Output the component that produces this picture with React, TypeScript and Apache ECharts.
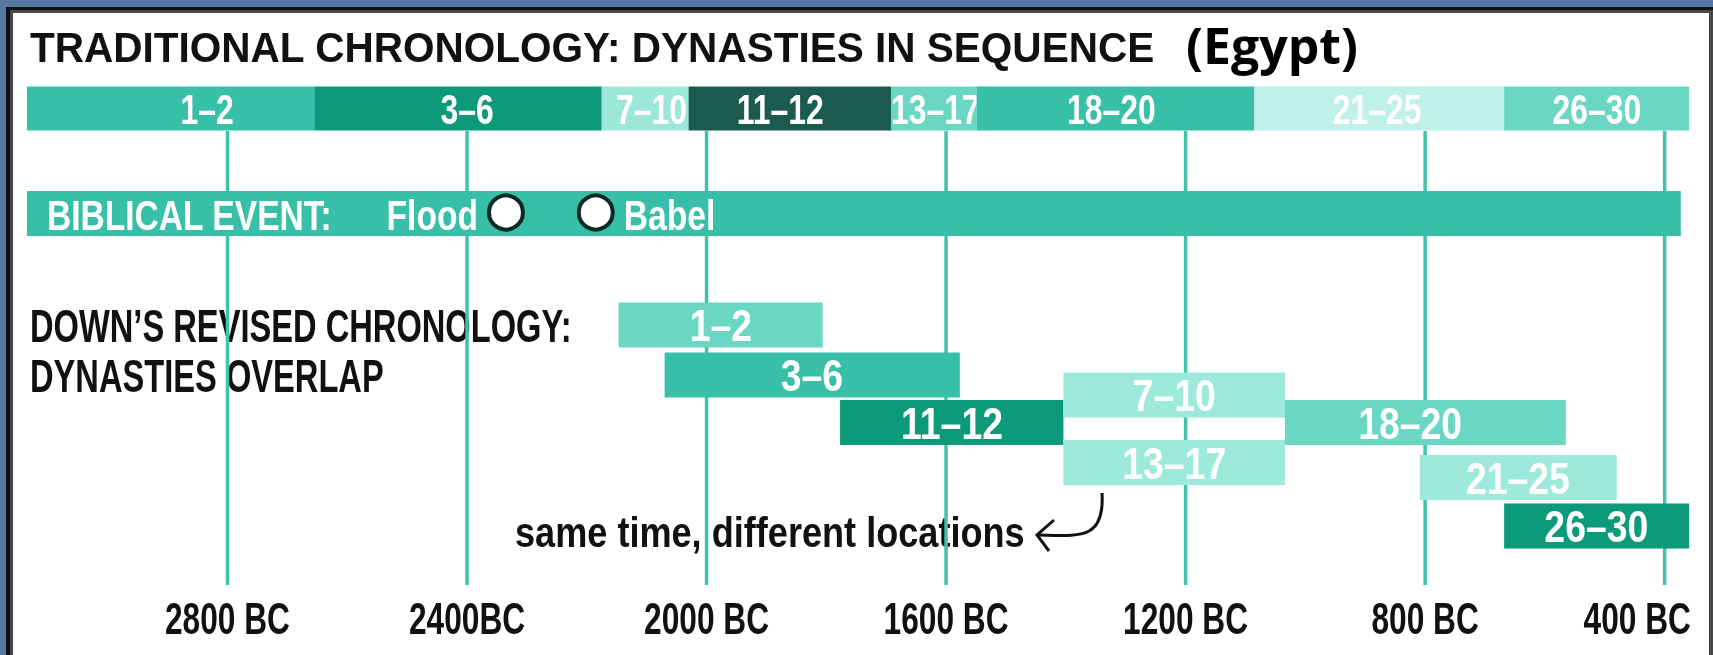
import React, { useEffect, useRef } from "react";
import * as echarts from "echarts";

const FONT = '"Liberation Sans", Arial, sans-serif';

// Traditional chronology: dynasties in sequence (years BC)
const seqLabels = ["1–2", "3–6", "7–10", "11–12", "13–17", "18–20", "21–25", "26–30"];
const seqStart = [3135, 2655, 2175, 2030, 1692, 1549, 1085, 668];
const seqEnd = [2655, 2175, 2030, 1692, 1549, 1085, 668, 359];
const seqLabelYear = [2834, 2400, 2092, 1877, 1618, 1324, 880, 513];

// Biblical events (years BC)
const biblicalSpan = [3135, 373];
const eventNames = ["Flood", "Babel"];
const eventYears = [2335, 2185];

// Down's revised chronology: dynasties overlap (years BC, row index)
const revLabels = ["1–2", "3–6", "11–12", "7–10", "13–17", "18–20", "21–25", "26–30"];
const revStart = [2147, 2070, 1777, 1404, 1404, 1034, 809, 668];
const revEnd = [1806, 1577, 1404, 1034, 1034, 565, 480, 359];
const revRow = [0, 1, 1.95, 1.4, 2.75, 1.95, 3.05, 4.02];
const revLabelYear = [1976, 1824, 1590, 1219, 1219, 825, 645, 514];

// Axis ticks
const tickYears = [2800, 2400, 2000, 1600, 1200, 800, 400];
const tickLabels = ["2800 BC", "2400BC", "2000 BC", "1600 BC", "1200 BC", "800 BC", "400 BC"];

// Row positions of the top bands, guide lines and tick labels (in row units)
const SEQ_ROW = -4.33;
const BIB_ROW = -2.23;
const LINE_TOP = -3.88;
const LINE_BOTTOM = 5.2;
const TICK_ROW = 5.87;

// Styles
const seqColors = ["#37bfa7", "#0c9a7a", "#9be7da", "#1b5a4e", "#6ad6c4", "#37bfa7", "#bff0e9", "#6ad7c5"];
const revColors = ["#6ad7c5", "#37bfa7", "#0b9a7a", "#9de9db", "#9de9db", "#6ad7c5", "#9de9db", "#0b9a7a"];
const eventSide = ["left", "right"];
const TEAL = "#37bfa7";
const LINE_COLOR = "#40c3ac";
const INK = "#111111";
const PANEL_RIGHT_LIMIT = 1691;

let measureCtx: CanvasRenderingContext2D | null = null;
function textWidth(text: string, font: string): number {
  if (!measureCtx) measureCtx = document.createElement("canvas").getContext("2d");
  if (!measureCtx) return text.length * 20;
  measureCtx.font = font;
  return measureCtx.measureText(text).width;
}

function barRenderer(
  labels: string[],
  colors: string[],
  fontSize: number,
  scaleX: number,
  barH: number,
  labelYears?: number[]
) {
  return (params: any, api: any) => {
    const i = params.dataIndex;
    const s = api.value(0);
    const e = api.value(1);
    const row = api.value(2);
    const a = api.coord([s, row]);
    const b = api.coord([e, row]);
    const h = api.size([0, barH])[1];
    const x = Math.min(a[0], b[0]);
    const w = Math.abs(b[0] - a[0]);
    const lx = labelYears ? api.coord([labelYears[i], row])[0] : x + w / 2;
    return {
      type: "group",
      children: [
        { type: "rect", shape: { x, y: a[1] - h / 2, width: w, height: h }, style: { fill: colors[i] } },
        {
          type: "text",
          x: lx,
          y: a[1] + 1,
          scaleX,
          style: {
            text: labels[i],
            align: "center",
            verticalAlign: "middle",
            fill: "#ffffff",
            font: `bold ${fontSize}px ${FONT}`,
          },
        },
      ],
    };
  };
}

export default function App() {
  const ref = useRef<HTMLDivElement>(null);

  useEffect(() => {
    if (!ref.current) return;
    const chart = echarts.init(ref.current, null, { renderer: "svg" });

    const tickFont = `bold 44px ${FONT}`;
    const tickScale = 0.72;

    const option: any = {
      animation: false,
      backgroundColor: "transparent",
      grid: {
        left: 17.92,
        right: 18.44,
        top: 0,
        bottom: 55,
        containLabel: false,
        outerBoundsMode: "none",
      },
      xAxis: {
        type: "value",
        min: 350,
        max: 3150,
        inverse: true,
        axisLine: { show: false },
        axisTick: { show: false },
        splitLine: { show: false },
        axisLabel: { show: false },
      },
      yAxis: { type: "value", min: -6.5, max: 5.5, inverse: true, show: false },
      graphic: [
        { type: "rect", silent: true, shape: { x: 0, y: 0, width: 1713, height: 655 }, style: { fill: "#5677a1" } },
        { type: "rect", silent: true, shape: { x: 6, y: 7, width: 1707, height: 648 }, style: { fill: "#121212" } },
        { type: "rect", silent: true, shape: { x: 10, y: 10, width: 1703, height: 645 }, style: { fill: "#474747" } },
        { type: "rect", silent: true, shape: { x: 13, y: 13, width: 1696, height: 642 }, style: { fill: "#ffffff" } },
        {
          type: "text",
          silent: true,
          x: 30,
          y: 48,
          scaleX: 0.965,
          style: {
            text: "TRADITIONAL CHRONOLOGY: DYNASTIES IN SEQUENCE",
            font: `bold 42px ${FONT}`,
            fill: INK,
            verticalAlign: "middle",
          },
        },
        {
          type: "text",
          silent: true,
          x: 1186,
          y: 45,
          style: {
            text: "(Egypt)",
            font: 'bold 50px "Open Sans", "Noto Sans", sans-serif',
            fill: "#000000",
            verticalAlign: "middle",
          },
        },
        {
          type: "text",
          silent: true,
          x: 30,
          y: 326,
          scaleX: 0.71,
          style: { text: "DOWN’S REVISED CHRONOLOGY:", font: `bold 46px ${FONT}`, fill: INK, verticalAlign: "middle" },
        },
        {
          type: "text",
          silent: true,
          x: 30,
          y: 376,
          scaleX: 0.71,
          style: { text: "DYNASTIES OVERLAP", font: `bold 46px ${FONT}`, fill: INK, verticalAlign: "middle" },
        },
        {
          type: "text",
          silent: true,
          x: 515,
          y: 533,
          scaleX: 0.86,
          style: { text: "same time, different locations", font: `bold 42px ${FONT}`, fill: INK, verticalAlign: "middle" },
        },
        {
          type: "bezierCurve",
          silent: true,
          shape: { x1: 1102, y1: 493, cpx1: 1105, cpy1: 540, cpx2: 1080, cpy2: 536, x2: 1039, y2: 535 },
          style: { stroke: INK, lineWidth: 3, fill: "none" },
        },
        {
          type: "polyline",
          silent: true,
          shape: { points: [[1054, 520], [1037, 535], [1049, 551]] },
          style: { stroke: INK, lineWidth: 3, fill: "none" },
        },
      ],
      series: [
        {
          type: "custom",
          name: "guides",
          z: 2,
          silent: true,
          encode: { x: 0, y: [1, 2] },
          data: tickYears.map((y) => [y, LINE_TOP, LINE_BOTTOM]),
          renderItem: (params: any, api: any) => {
            const p0 = api.coord([api.value(0), api.value(1)]);
            const p1 = api.coord([api.value(0), api.value(2)]);
            return {
              type: "line",
              shape: { x1: p0[0], y1: p0[1], x2: p1[0], y2: p1[1] },
              style: { stroke: LINE_COLOR, lineWidth: 3.5 },
            };
          },
        },
        {
          type: "custom",
          name: "tickLabels",
          z: 2,
          silent: true,
          encode: { x: 0, y: 1 },
          data: tickYears.map((y) => [y, TICK_ROW]),
          renderItem: (params: any, api: any) => {
            const i = params.dataIndex;
            const text = tickLabels[i];
            const c = api.coord([api.value(0), api.value(1)]);
            const half = (textWidth(text, tickFont) * tickScale) / 2;
            const cx = Math.min(c[0], PANEL_RIGHT_LIMIT - half);
            return {
              type: "text",
              x: cx,
              y: c[1],
              scaleX: tickScale,
              style: { text, font: tickFont, fill: INK, align: "center", verticalAlign: "middle" },
            };
          },
        },
        {
          type: "custom",
          name: "traditional",
          z: 3,
          silent: true,
          encode: { x: [0, 1], y: 2 },
          data: seqLabels.map((_, i) => [seqStart[i], seqEnd[i], SEQ_ROW]),
          renderItem: barRenderer(seqLabels, seqColors, 42, 0.76, 0.88, seqLabelYear),
        },
        {
          type: "custom",
          name: "biblical",
          z: 3,
          silent: true,
          encode: { x: [0, 1], y: 2 },
          data: [[biblicalSpan[0], biblicalSpan[1], BIB_ROW]],
          renderItem: (params: any, api: any) => {
            const a = api.coord([api.value(0), api.value(2)]);
            const b = api.coord([api.value(1), api.value(2)]);
            const h = api.size([0, 0.9])[1];
            const x = Math.min(a[0], b[0]);
            const w = Math.abs(b[0] - a[0]);
            return {
              type: "group",
              children: [
                { type: "rect", shape: { x, y: a[1] - h / 2, width: w, height: h }, style: { fill: TEAL } },
                {
                  type: "text",
                  x: x + 20,
                  y: a[1] + 2,
                  scaleX: 0.8,
                  style: {
                    text: "BIBLICAL EVENT:",
                    align: "left",
                    verticalAlign: "middle",
                    fill: "#ffffff",
                    font: `bold 42px ${FONT}`,
                  },
                },
              ],
            };
          },
        },
        {
          type: "custom",
          name: "events",
          z: 4,
          silent: true,
          encode: { x: 0, y: 1 },
          data: eventYears.map((y) => [y, BIB_ROW]),
          renderItem: (params: any, api: any) => {
            const i = params.dataIndex;
            const c = api.coord([api.value(0), api.value(1)]);
            const r = 17;
            const left = eventSide[i] === "left";
            return {
              type: "group",
              children: [
                {
                  type: "circle",
                  shape: { cx: c[0], cy: c[1] - 1, r },
                  style: { fill: "#ffffff", stroke: "#0c2a25", lineWidth: 4 },
                },
                {
                  type: "text",
                  x: left ? c[0] - r - 11 : c[0] + r + 11,
                  y: c[1] + 2,
                  scaleX: 0.8,
                  style: {
                    text: eventNames[i],
                    align: left ? "right" : "left",
                    verticalAlign: "middle",
                    fill: "#ffffff",
                    font: `bold 42px ${FONT}`,
                  },
                },
              ],
            };
          },
        },
        {
          type: "custom",
          name: "revised",
          z: 3,
          silent: true,
          encode: { x: [0, 1], y: 2 },
          data: revLabels.map((_, i) => [revStart[i], revEnd[i], revRow[i]]),
          renderItem: barRenderer(revLabels, revColors, 44, 0.85, 0.9, revLabelYear),
        },
      ],
    };

    chart.setOption(option);
    return () => chart.dispose();
  }, []);

  return (
    <div
      ref={ref}
      style={{ position: "fixed", left: 0, top: 0, width: 1713, height: 655 }}
    />
  );
}
